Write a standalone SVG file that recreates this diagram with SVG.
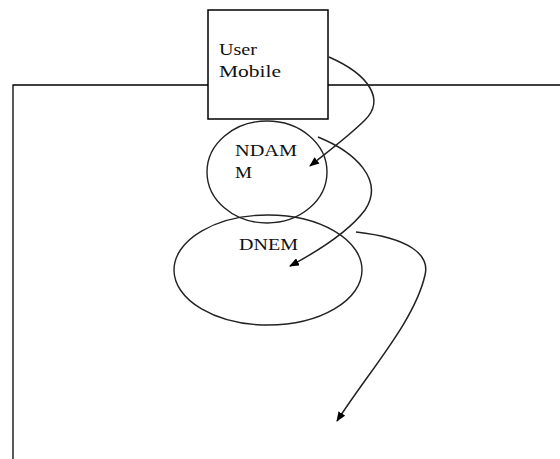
<svg xmlns="http://www.w3.org/2000/svg" width="560" height="459" viewBox="0 0 560 459">
<defs>
<style>
.ln{fill:none;stroke:#000;stroke-width:1.3}
.sh{fill:#fff;stroke:#000;stroke-width:1.5}
.el{fill:none;stroke:#222;stroke-width:1.4}
.t{font-family:"Liberation Serif","Times New Roman",serif;font-size:17px;fill:#111}
.arr{fill:none;stroke:#222;stroke-width:1.5}
</style>
<marker id="ah" markerWidth="10" markerHeight="8" refX="9" refY="4" orient="auto" markerUnits="userSpaceOnUse">
<path d="M0,0 L10,4 L0,8 z" fill="#000"/>
</marker>
</defs>
<g id="frame">
<path class="ln" d="M13,459 V85 H208 M328,85 H560"/>
</g>
<g id="dnem">
<ellipse class="el" cx="268" cy="270" rx="94" ry="55"/>
<text class="t" x="239" y="250" textLength="59" lengthAdjust="spacingAndGlyphs">DNEM</text>
</g>
<g id="ndamm">
<ellipse class="el" cx="267" cy="172" rx="60" ry="51" fill="#fff"/>
<text class="t" x="235" y="156" textLength="62" lengthAdjust="spacingAndGlyphs">NDAM</text>
<text class="t" x="235" y="178" textLength="17" lengthAdjust="spacingAndGlyphs">M</text>
</g>
<g id="user-mobile">
<rect class="sh" x="208" y="10" width="120" height="109"/>
<text class="t" x="219" y="55" textLength="38" lengthAdjust="spacingAndGlyphs">User</text>
<text class="t" x="219" y="77" textLength="62" lengthAdjust="spacingAndGlyphs">Mobile</text>
</g>
<g id="connectors">
<path class="arr" marker-end="url(#ah)" d="M329,57 C370,75 385,100 365,120 C350,135 330,150 310,166"/>
<path class="arr" marker-end="url(#ah)" d="M318,137 C355,152 385,180 365,210 C350,230 320,250 290,266"/>
<path class="arr" marker-end="url(#ah)" d="M356,232 C410,238 430,255 425,275 C415,320 370,370 337,421"/>
</g>
</svg>
